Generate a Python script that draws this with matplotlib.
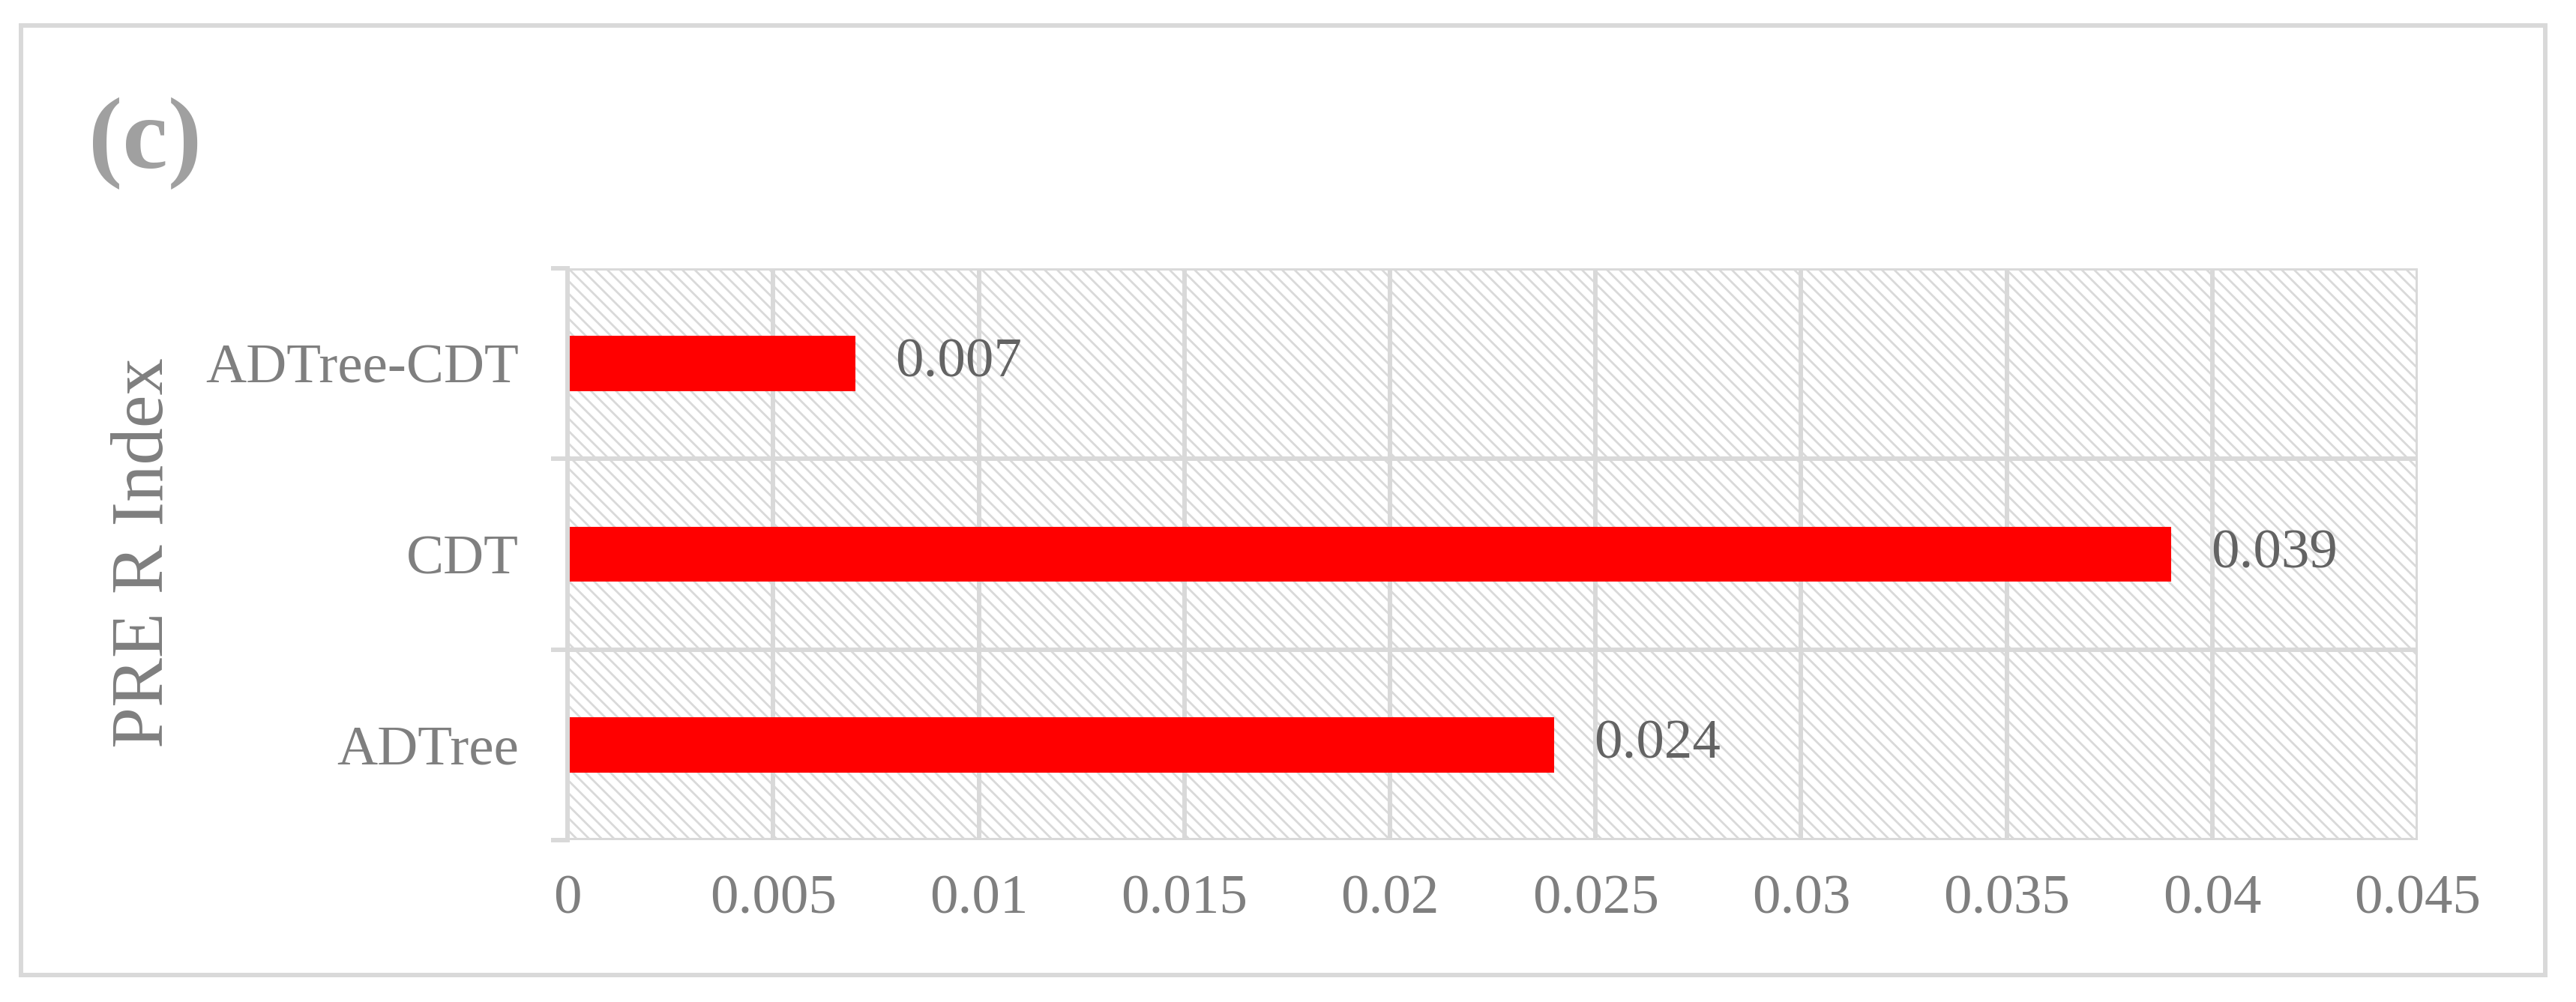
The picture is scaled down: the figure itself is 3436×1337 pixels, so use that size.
import matplotlib.pyplot as plt
from matplotlib.patches import Rectangle
from matplotlib.ticker import FixedLocator

categories = ["ADTree", "CDT", "ADTree-CDT"]
values = [0.024, 0.039, 0.007]
xticks = [0, 0.005, 0.01, 0.015, 0.02, 0.025, 0.03, 0.035, 0.04, 0.045]
xticklabels = ["0", "0.005", "0.01", "0.015", "0.02", "0.025", "0.03", "0.035", "0.04", "0.045"]

grid_c = "#d9d9d9"
text_c = "#7f7f7f"
lw = 4.3

plt.rcParams['font.family'] = ['Liberation Serif', 'DejaVu Serif']
plt.rcParams['hatch.linewidth'] = 2.0

fig = plt.figure(figsize=(34.37, 13.37), dpi=100)
ax = fig.add_axes([0.2203, 0.1616, 0.9383 - 0.2203, 0.7322 - 0.1616])

# outer frame
fig.patches.append(Rectangle((28 / 3437, 1 - 1301 / 1337), 3367 / 3437, 1267 / 1337,
                             transform=fig.transFigure, fill=False,
                             edgecolor=grid_c, linewidth=lw, zorder=0))

# hatched plot area
ax.add_patch(Rectangle((0, 0), 1, 1, transform=ax.transAxes, facecolor="none",
                       edgecolor=grid_c, linewidth=0, hatch="\\\\", zorder=0))

y = range(len(categories))
ax.barh(y, values, height=0.29, color="#ff0000", zorder=2)
for yi, v in zip(y, values):
    ax.annotate(f"{v:.3f}", (v, yi), xytext=(38, 0), textcoords="offset points",
                ha="left", va="center", fontsize=54, color="#636363", zorder=3)

ax.set_xlim(0, 0.045)
ax.set_ylim(-0.5, len(categories) - 0.5)
ax.set_xticks(xticks)
ax.set_xticklabels(xticklabels)
ax.set_yticks(list(y))
ax.set_yticklabels(categories)
ax.yaxis.set_minor_locator(FixedLocator([-0.5, 0.5, 1.5, 2.5]))

ax.tick_params(axis="x", length=0, pad=33, labelsize=54, labelcolor=text_c)
ax.tick_params(axis="y", which="major", length=0, pad=47, labelsize=54, labelcolor=text_c)
ax.tick_params(axis="y", which="minor", length=16, width=lw, color=grid_c)

ax.set_axisbelow(True)
ax.grid(axis="x", which="major", color=grid_c, linewidth=lw)
ax.grid(axis="y", which="minor", color=grid_c, linewidth=lw)
for s in ["top", "right", "bottom"]:
    ax.spines[s].set_visible(False)
ax.spines["left"].set_color(grid_c)
ax.spines["left"].set_linewidth(lw)
ax.spines["left"].set_zorder(2.5)

ax.set_ylabel("PRE R Index", fontsize=71, color=text_c)
ax.yaxis.set_label_coords(0, 0.5)
lab = ax.yaxis.label
lab.set_transform(fig.transFigure)
lab.set_position((193 / 3437, 1 - 738 / 1337))
lab.set_va("center")

fig.text(118 / 3437, 1 - 191 / 1337, "(c)", fontsize=98, fontweight="bold",
         color="#a0a0a0", ha="left", va="center")

fig.savefig("out.png", dpi=100)
